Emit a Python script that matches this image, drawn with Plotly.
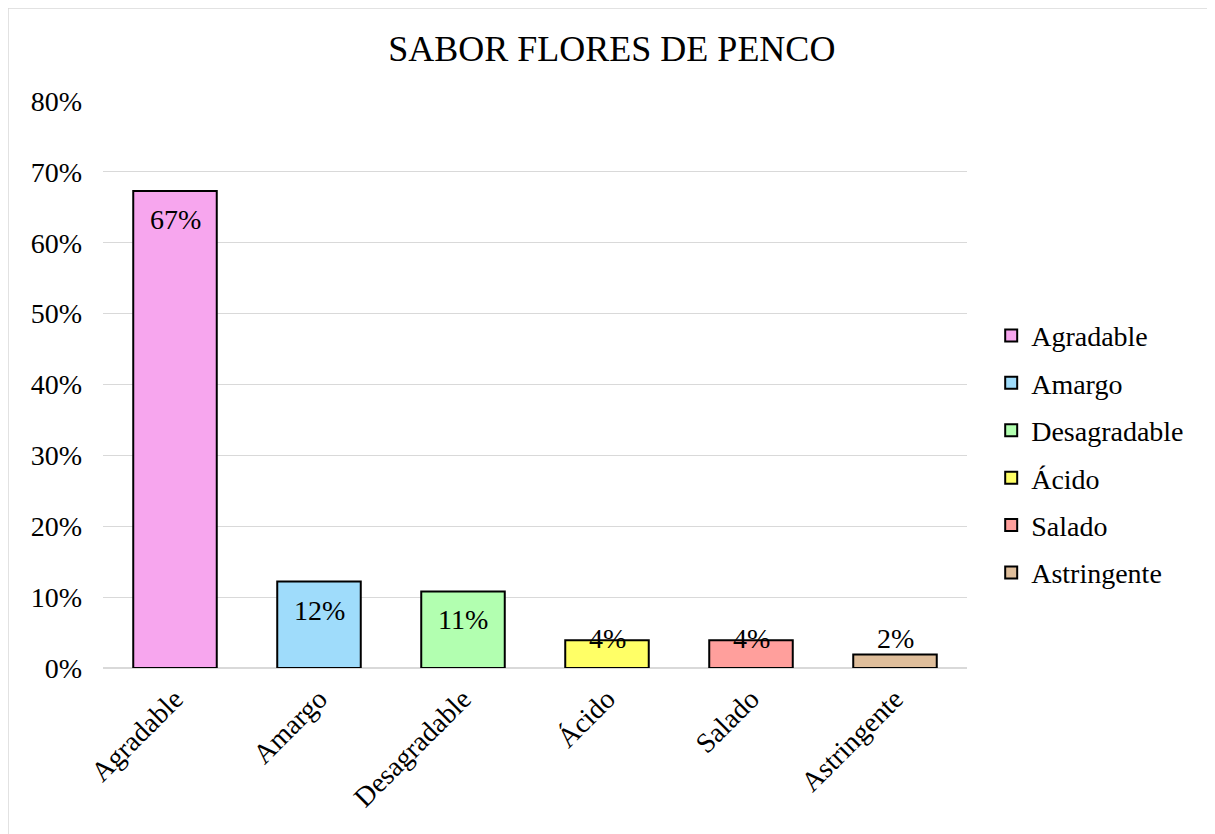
import plotly.graph_objs as go

categories = ["Agradable", "Amargo", "Desagradable", "Ácido", "Salado", "Astringente"]
values = [0.673, 0.122, 0.108, 0.039, 0.039, 0.019]
labels = ["67%", "12%", "11%", "4%", "4%", "2%"]
colors = ["#F7A6EE", "#9FDCFB", "#B2FFB0", "#FFFF66", "#FF9F9C", "#DFBE9B"]
y_ticks = [0, 0.1, 0.2, 0.3, 0.4, 0.5, 0.6, 0.7, 0.8]

font = "Liberation Serif, Times New Roman, serif"

fig = go.Figure()
for cat, val, col in zip(categories, values, colors):
    fig.add_trace(go.Bar(
        x=[cat], y=[val], name=cat, legendgroup=cat,
        marker=dict(color=col, line=dict(color="black", width=2)),
        width=0.58,
    ))

# data labels: inside the top of tall bars, floating low for short ones
annotations = []
for cat, val, lab in zip(categories, values, labels):
    if val > 0.06:
        annotations.append(dict(x=cat, y=val, text=lab, showarrow=False,
                                yanchor="top", yshift=-11))
    else:
        annotations.append(dict(x=cat, y=0, text=lab, showarrow=False,
                                yanchor="middle", yshift=30))
for a in annotations:
    a["font"] = dict(family=font, size=28, color="black")

fig.update_layout(
    width=1215, height=834,
    margin=dict(l=95, r=256, t=93, b=174),
    paper_bgcolor="white", plot_bgcolor="white",
    barmode="overlay",
    font=dict(family=font, size=28, color="black"),
    title=dict(text="SABOR FLORES DE PENCO", x=0.497, xanchor="center", xref="container",
               y=0.952, yref="container", yanchor="middle", font=dict(size=36, family=font)),
    legend=dict(x=1.028, y=0.377, xanchor="left", yanchor="middle",
                font=dict(size=28, family=font), tracegroupgap=8, itemwidth=30),
    xaxis=dict(tickangle=-45, showline=False, ticks="", tickfont=dict(size=28),
               ticklabelstandoff=8),
    yaxis=dict(range=[0, 0.8], tickvals=y_ticks, tickformat=".0%",
               gridcolor="#D9D9D9", gridwidth=1.3, zeroline=True, zerolinecolor="#D9D9D9",
               zerolinewidth=1.5, ticks="", tickfont=dict(size=28), ticklabelstandoff=20),
    annotations=annotations,
    shapes=[dict(type="rect", xref="paper", yref="paper",
                 x0=-95 / 864, x1=(1215 - 95) / 864,
                 y0=-174 / 567, y1=(834 - 174) / 567,
                 line=dict(color="#D9D9D9", width=1.5))],
)

fig.write_html("out.html")
